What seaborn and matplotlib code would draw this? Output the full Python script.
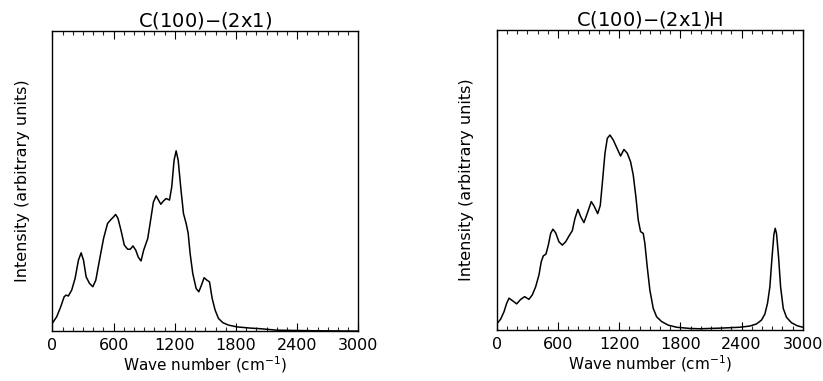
import matplotlib
matplotlib.use("Agg")
import matplotlib.pyplot as plt
import pandas as pd
import seaborn as sns
from matplotlib.ticker import MultipleLocator, NullLocator

# Spectra (intensity as a fraction of the axis height)
wn_bare = [0, 43, 82, 115, 134, 157, 190, 223, 256, 282, 305, 331, 364, 397, 426,
           462, 502, 541, 574, 600, 620, 643, 672, 705, 738, 764, 790, 817, 843,
           869, 895, 935, 968, 990, 1017, 1040, 1063, 1089, 1115, 1148, 1170, 1193,
           1213, 1233, 1259, 1285, 1311, 1331, 1350, 1376, 1409, 1435, 1461, 1487,
           1514, 1540, 1566, 1595, 1628, 1671, 1726, 1808, 1939, 2037, 2200, 2600, 3000]
int_bare = [0.026, 0.048, 0.081, 0.114, 0.120, 0.117, 0.137, 0.176, 0.237, 0.261,
            0.237, 0.181, 0.159, 0.148, 0.170, 0.237, 0.309, 0.359, 0.372, 0.381,
            0.389, 0.376, 0.337, 0.287, 0.273, 0.273, 0.284, 0.270, 0.246, 0.234,
            0.270, 0.309, 0.381, 0.430, 0.451, 0.437, 0.423, 0.434, 0.442, 0.437,
            0.481, 0.570, 0.601, 0.570, 0.476, 0.392, 0.359, 0.326, 0.259, 0.192,
            0.142, 0.131, 0.153, 0.178, 0.170, 0.164, 0.109, 0.070, 0.042, 0.028,
            0.020, 0.014, 0.010, 0.008, 0.003, 0.001, 0.0]

wn_h = [0, 39, 72, 98, 121, 153, 196, 235, 274, 316, 349, 382, 414, 437, 457, 483,
        506, 529, 551, 578, 610, 643, 676, 708, 741, 767, 796, 823, 855, 888, 927,
        953, 990, 1015, 1038, 1061, 1084, 1110, 1143, 1175, 1214, 1247, 1280, 1312,
        1338, 1364, 1387, 1410, 1436, 1452, 1475, 1501, 1534, 1567, 1616, 1681,
        1763, 1893, 1991, 2187, 2383, 2481, 2546, 2595, 2628, 2654, 2677, 2696,
        2716, 2729, 2742, 2762, 2782, 2808, 2840, 2889, 2945, 3000]
int_h = [0.020, 0.036, 0.061, 0.089, 0.106, 0.098, 0.087, 0.102, 0.111, 0.102,
         0.117, 0.144, 0.183, 0.228, 0.247, 0.253, 0.283, 0.322, 0.336, 0.324,
         0.294, 0.283, 0.294, 0.313, 0.331, 0.372, 0.402, 0.378, 0.358, 0.389,
         0.428, 0.414, 0.388, 0.415, 0.500, 0.589, 0.639, 0.650, 0.633, 0.609,
         0.580, 0.602, 0.589, 0.561, 0.517, 0.444, 0.367, 0.328, 0.322, 0.289,
         0.211, 0.133, 0.072, 0.044, 0.028, 0.016, 0.009, 0.005, 0.004, 0.006,
         0.009, 0.013, 0.020, 0.033, 0.053, 0.089, 0.144, 0.233, 0.317, 0.339,
         0.322, 0.244, 0.144, 0.072, 0.042, 0.024, 0.014, 0.009]

titles = ["C(100)$-$(2x1)", "C(100)$-$(2x1)H"]
xticks = [0, 600, 1200, 1800, 2400, 3000]

sns.set_style("white")
plt.rcParams['font.family'] = ['DejaVu Sans']
plt.rcParams['mathtext.default'] = 'regular'
plt.rcParams['text.color'] = 'black'
plt.rcParams['axes.labelcolor'] = 'black'

fig = plt.figure(figsize=(8.23, 3.81), dpi=100)
ax1 = fig.add_axes([0.0636, 0.131, 0.372, 0.787])
ax2 = fig.add_axes([0.6035, 0.134, 0.372, 0.787])

for ax, wn, inten, title in zip([ax1, ax2], [wn_bare, wn_h], [int_bare, int_h], titles):
    df = pd.DataFrame({"wn": wn, "I": inten})
    sns.lineplot(data=df, x="wn", y="I", ax=ax, color="black", linewidth=1.1)
    ax.set_xlim(0, 3000)
    ax.set_ylim(0, 1)
    ax.set_xticks(xticks)
    ax.set_xticklabels([str(t) for t in xticks], fontsize=11.5)
    ax.xaxis.set_minor_locator(MultipleLocator(100))
    ax.yaxis.set_major_locator(NullLocator())
    ax.tick_params(axis="x", which="major", direction="in", length=6, width=0.8,
                   top=True, bottom=True, pad=5, colors="black")
    ax.tick_params(axis="x", which="minor", direction="in", length=3, width=0.8,
                   top=True, bottom=True)
    for s in ax.spines.values():
        s.set_color("black")
        s.set_linewidth(1.0)
    ax.set_title(title, fontsize=14, pad=2)
    ax.set_xlabel("Wave number (cm$^{-1}$)", fontsize=11, labelpad=1)
    ax.set_ylabel("Intensity (arbitrary units)", fontsize=11.5, labelpad=16)

fig.savefig("out.png", dpi=100)
